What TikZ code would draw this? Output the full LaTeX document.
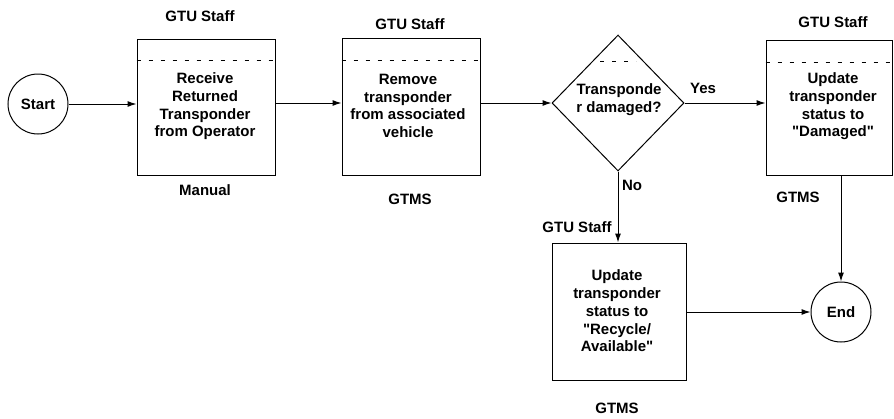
\documentclass[tikz,border=0pt]{standalone}
\usepackage{fontspec}
\setmainfont{Liberation Sans}[Ligatures=TeXOff]
\usetikzlibrary{shapes.geometric,arrows.meta}
\begin{document}
\begin{tikzpicture}[x=1pt,y=-1pt,
  font=\fontsize{15pt}{17.7pt}\selectfont\bfseries,
  every node/.style={inner sep=0pt},
  proc/.style={draw,line width=1pt,rectangle},
  term/.style={draw,line width=1pt,circle,minimum size=60pt},
  txt/.style={align=center},
  lbl/.style={},
  conn/.style={line width=1pt,-{Latex[length=9pt,width=6pt]}},
  sep/.style={line width=0.9pt,dash pattern=on 4pt off 8pt}]
\useasboundingbox (0,0) rectangle (894,418);
% nodes
\node[term] (start) at (38,104) {Start};
\node[proc,minimum width=138pt,minimum height=136pt] (b1) at (206,107) {};
\node[proc,minimum width=138pt,minimum height=137pt] (b2) at (411,106.5) {};
\node[draw,line width=1pt,diamond,minimum width=132pt,minimum height=136pt] (dia) at (618,103) {};
\node[proc,minimum width=126pt,minimum height=135pt] (b3) at (829,107.5) {};
\node[proc,minimum width=134pt,minimum height=137pt] (b4) at (619,311.5) {};
\node[term] (end) at (841,312) {End};
% texts inside
\node[txt] (t1) at (205,106.5) {Receive\\Returned\\Transponder\\from Operator};
\node[txt] (t2) at (408,106) {Remove\\transponder\\from associated\\vehicle};
\node[txt] (t3) at (619,100) {Transponde\\r damaged?};
\node[txt] (t4) at (833,106.5) {Update\\transponder\\status to\\"Damaged"};
\node[txt] (t5) at (617,311) {Update\\transponder\\status to\\"Recycle/\\Available"};
% lane labels
\node[lbl] (l1) at (200,16) {GTU Staff};
\node[lbl] (l2) at (205,190) {Manual};
\node[lbl] (l3) at (410,24) {GTU Staff};
\node[lbl] (l4) at (410,199) {GTMS};
\node[lbl] (l5) at (833,22) {GTU Staff};
\node[lbl] (l6) at (798,197) {GTMS};
\node[lbl] (l7) at (577,227) {GTU Staff};
\node[lbl] (l8) at (617,408) {GTMS};
\node[lbl] (yes) at (703,88) {Yes};
\node[lbl] (no) at (632,185) {No};
% dotted separators
\draw[sep] (b1.west |- 0,60) -- (b1.east |- 0,60);
\draw[sep] (b2.west |- 0,60) -- (b2.east |- 0,60);
\draw[sep] (b3.west |- 0,62) -- (b3.east |- 0,62);
\draw[sep] (600,61) -- (636,61);
% connectors
\draw[conn] (start.east) -- (b1.west |- start.east);
\draw[conn] (b1.east |- 0,103) -- (b2.west |- 0,103);
\draw[conn] (b2.east |- dia.west) -- (dia.west);
\draw[conn] (dia.east) -- (b3.west |- dia.east);
\draw[conn] (dia.south) -- (b4.north -| dia.south);
\draw[conn] (end.north |- b3.south) -- (end.north);
\draw[conn] (b4.east |- end.west) -- (end.west);
\end{tikzpicture}
\end{document}
